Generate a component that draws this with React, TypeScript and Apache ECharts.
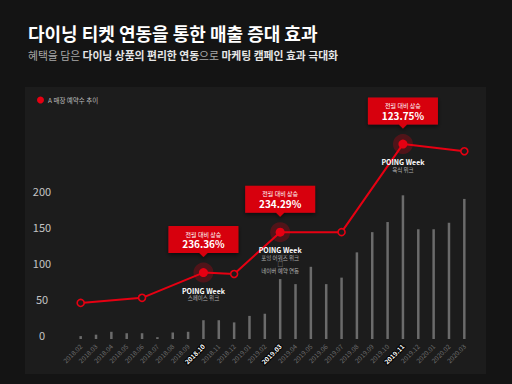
import React, { useEffect, useRef } from "react";
import * as echarts from "echarts";

const FONT = '"Noto Sans CJK KR", "Noto Sans", sans-serif';
const RED = "#e60012";

const titleText = "다이닝 티켓 연동을 통한 매출 증대 효과";
const subtitleParts = [
  { text: "혜택을 담은 ", bold: false },
  { text: "다이닝 상품의 편리한 연동", bold: true },
  { text: "으로 ", bold: false },
  { text: "마케팅 캠페인 효과 극대화", bold: true },
];
const legendName = "A 매장 예약수 추이";

const months = [
  "2018.02", "2018.03", "2018.04", "2018.05", "2018.06", "2018.07", "2018.08",
  "2018.09", "2018.10", "2018.11", "2018.12", "2019.01", "2019.02", "2019.03",
  "2019.04", "2019.05", "2019.06", "2019.07", "2019.08", "2019.09", "2019.10",
  "2019.11", "2019.12", "2020.01", "2020.02", "2020.03",
];
const barValues = [
  4, 6, 10, 8, 8, 2.5, 9, 10, 26, 26, 23, 32, 35, 83, 76, 100, 76, 85, 120,
  148, 162, 199, 152, 152, 161, 194,
];
const lineValues: (number | null)[] = [
  50, null, null, null, 57, null, null, null, 92, null, 90, null, null, 148,
  null, null, null, 148, null, null, null, 270, null, null, null, 260,
];
const highlightIdx = [8, 13, 21];
const calloutTitles = ["전월 대비 상승", "전월 대비 상승", "전월 대비 상승"];
const calloutPercents = ["236.36%", "234.29%", "123.75%"];
const eventTitles = ["POING Week", "POING Week", "POING Week"];
const eventNotes = [
  ["스페이스 위크"],
  ["포잉 어워즈 위크", "□", "네이버 예약 연동"],
  ["육식 위크"],
];
const yMax = 300;
const yInterval = 50;
const yLabelMax = 200;

export default function App() {
  const ref = useRef<HTMLDivElement>(null);
  useEffect(() => {
    if (!ref.current) return;
    const chart = echarts.init(ref.current, undefined, { renderer: "svg" });

    const lineData = lineValues.map((v, i) => {
      const h = highlightIdx.indexOf(i);
      if (v === null) return "-";
      if (h < 0) return v;
      return {
        value: v,
        symbolSize: 9,
        itemStyle: { color: RED, borderWidth: 0 },
        label: {
          show: true,
          position: "bottom",
          distance: 9,
          formatter:
            `{p|${eventTitles[h]}}` +
            eventNotes[h].map((n) => `\n{s|${n}}`).join(""),
          rich: {
            p: { fontFamily: FONT, fontSize: 7, fontWeight: "bold", color: "#ffffff", lineHeight: 9 },
            s: { fontFamily: FONT, fontSize: 5.5, color: "#b0b0b0", lineHeight: 6.5 },
          },
        },
      };
    });

    const haloData = highlightIdx.map((i) => [months[i], lineValues[i]]);

    const markData = highlightIdx.map((i, k) => ({
      coord: [months[i], lineValues[i]],
      label: {
        formatter: `{s|${calloutTitles[k]}}\n{b|${calloutPercents[k]}}`,
      },
    }));

    const subtitleRich = subtitleParts
      .map((p) => `{${p.bold ? "b" : "r"}|${p.text}}`)
      .join("");

    chart.setOption({
      animation: false,
      backgroundColor: "#141414",
      textStyle: { fontFamily: FONT },
      graphic: [
        {
          type: "rect",
          z: -10,
          shape: { x: 25, y: 87, width: 461, height: 287 },
          style: { fill: "#1c1c1c" },
          silent: true,
        },
      ],
      title: {
        text: titleText,
        subtext: subtitleRich,
        left: 28,
        top: 24,
        padding: 0,
        itemGap: 8,
        textStyle: { fontFamily: FONT, fontSize: 18, fontWeight: "bold", color: "#ffffff" },
        subtextStyle: {
          fontFamily: FONT,
          fontSize: 10.8,
          rich: {
            r: { fontFamily: FONT, fontSize: 10.8, color: "#a8a8a8" },
            b: { fontFamily: FONT, fontSize: 10.8, fontWeight: "bold", color: "#e6e6e6" },
          },
        },
      },
      legend: {
        left: 37,
        top: 96.5,
        padding: 0,
        itemWidth: 7,
        itemHeight: 7,
        itemGap: 5,
        data: [{ name: legendName, icon: "circle", itemStyle: { color: RED, borderWidth: 0 } }],
        textStyle: { fontFamily: FONT, fontSize: 6.5, color: "#bdbdbd", padding: [0, 0, 0, -1] },
      },
      grid: { left: 73, right: 40, top: 122.4, bottom: 45 },
      xAxis: {
        type: "category",
        data: months,
        axisLine: { show: false },
        axisTick: { show: false },
        axisLabel: {
          interval: 0,
          rotate: 45,
          margin: 6,
          fontSize: 6.5,
          formatter: (v: string, i: number) =>
            highlightIdx.indexOf(i) >= 0 ? `{h|${v}}` : `{n|${v}}`,
          rich: {
            n: { fontFamily: FONT, fontSize: 6.5, color: "#6e6e6e" },
            h: {
              fontFamily: FONT,
              fontSize: 6.5,
              fontWeight: "bold",
              color: "#ffffff",
              textBorderColor: "#000000",
              textBorderWidth: 2,
            },
          },
        },
      },
      yAxis: {
        type: "value",
        min: 0,
        max: yMax,
        interval: yInterval,
        splitLine: { show: false },
        axisLine: { show: false },
        axisTick: { show: false },
        axisLabel: {
          align: "center",
          verticalAlign: "bottom",
          lineHeight: 8,
          margin: 31,
          fontFamily: FONT,
          fontSize: 11,
          color: "#c4c4c4",
          formatter: (v: number) => (v <= yLabelMax ? String(v) : ""),
        },
      },
      series: [
        {
          type: "bar",
          data: barValues,
          barWidth: 2.5,
          itemStyle: { color: "#6b6b6b" },
          silent: true,
          z: 1,
        },
        {
          type: "scatter",
          data: haloData,
          symbolSize: 20,
          itemStyle: { color: "rgba(230,0,18,0.33)" },
          silent: true,
          z: 2,
        },
        {
          type: "line",
          name: legendName,
          data: lineData,
          connectNulls: true,
          symbol: "circle",
          symbolSize: 7,
          showAllSymbol: true,
          color: RED,
          lineStyle: { color: RED, width: 2 },
          itemStyle: { color: "#1c1c1c", borderColor: RED, borderWidth: 1.6 },
          z: 3,
          markPoint: {
            symbol: "path://M0,0 L70,0 L70,27 L39,27 L35,31 L31,27 L0,27 Z",
            symbolSize: [70, 31],
            symbolOffset: [0, -31],
            symbolKeepAspect: false,
            itemStyle: {
              color: "#d7000f",
              shadowBlur: 4,
              shadowColor: "rgba(0,0,0,0.55)",
              shadowOffsetY: 2,
            },
            label: {
              show: true,
              position: "inside",
              offset: [0, -2],
              rich: {
                s: { fontFamily: FONT, fontSize: 6, color: "#ffffff", lineHeight: 8 },
                b: { fontFamily: FONT, fontSize: 10, fontWeight: "bold", color: "#ffffff", lineHeight: 11 },
              },
            },
            data: markData,
          },
        },
      ],
    });
    return () => chart.dispose();
  }, []);

  return (
    <div
      ref={ref}
      style={{ position: "fixed", left: 0, top: 0, width: 512, height: 384 }}
    />
  );
}
